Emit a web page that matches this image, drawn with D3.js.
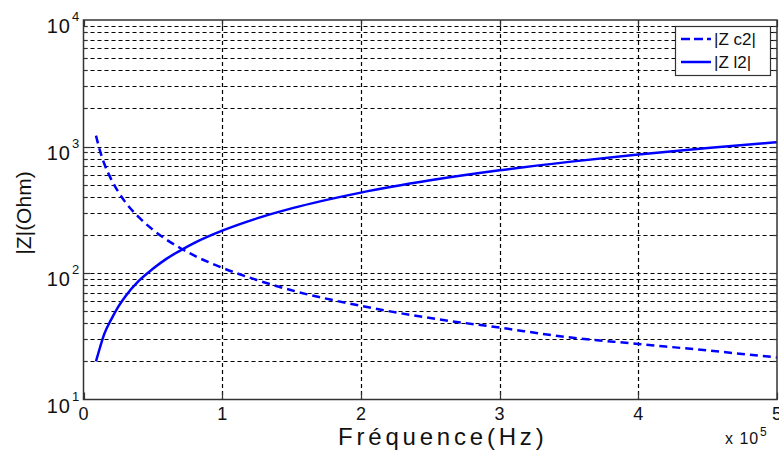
<!DOCTYPE html>
<html><head><meta charset="utf-8">
<script src="https://cdn.jsdelivr.net/npm/d3@7"></script>
<style>body{margin:0;background:#fff}svg{display:block}text{font-family:"Liberation Sans",Arial,sans-serif}</style>
</head><body><svg id="c" width="779" height="452"></svg>
<script>
const freq = [0.09,0.12,0.15,0.2,0.25,0.3,0.4,0.5,0.6,0.7,0.8,1.0,1.25,1.5,2.0,2.5,3.0,3.5,4.0,4.5,5.0]; // x 1e5 Hz
const zl2 = [20,26,33,43,54,65,87,108,130,151,173,216,270,324,432,540,648,756,864,972,1080];
const zc2 = [1220,915,730,550,440,365,275,220,183,157,137,110,88,73,55,44,37,31,27.5,24.4,21.5];
const xTicks = [0,1,2,3,4,5];
const yDecades = [1,2,3,4];
const seriesNames = ["|Z c2|","|Z l2|"];

const svg = d3.select("#c");
const L=83.5,R=777,T=20,B=399.5;
const x = d3.scaleLinear().domain([0,5]).range([L,R]);
const y = d3.scaleLog().domain([10,1e4]).range([B,T]);
const cr = v=>Math.round(v)+0.5;

// grid
const minor=[];
for(let d=1;d<4;d++){for(let m=1;m<10;m++){minor.push(m*Math.pow(10,d));}}
const inner = minor.filter(v=>v>10&&v<1e4);
const g = svg.append("g");
g.selectAll("line.h").data(inner).join("line")
 .attr("x1",L).attr("x2",R).attr("y1",d=>cr(y(d))).attr("y2",d=>cr(y(d)))
 .attr("stroke","#000").attr("stroke-width",1.2).attr("stroke-dasharray","4,3");
g.selectAll("line.v").data(xTicks.filter(v=>v>0&&v<5)).join("line")
 .attr("x1",d=>cr(x(d))).attr("x2",d=>cr(x(d))).attr("y1",T).attr("y2",B)
 .attr("stroke","#000").attr("stroke-width",1.2).attr("stroke-dasharray","4,3");

// ticks inward
const tk = svg.append("g").attr("stroke","#333").attr("stroke-width",1.2);
inner.forEach(v=>{
  const len = (Math.abs(Math.log10(v)%1)<1e-9)?7:4;
  tk.append("line").attr("x1",L).attr("x2",L+len).attr("y1",cr(y(v))).attr("y2",cr(y(v)));
  tk.append("line").attr("x1",R).attr("x2",R-len).attr("y1",cr(y(v))).attr("y2",cr(y(v)));
});
xTicks.forEach(v=>{
  tk.append("line").attr("x1",cr(x(v))).attr("x2",cr(x(v))).attr("y1",B).attr("y2",B-7);
  tk.append("line").attr("x1",cr(x(v))).attr("x2",cr(x(v))).attr("y1",T).attr("y2",T+7);
});

// curves
const line = d3.line().x((d,i)=>x(freq[i])).y(d=>y(d)).curve(d3.curveMonotoneX);
svg.append("path").attr("d",line(zc2)).attr("fill","none").attr("stroke","#0000ff")
 .attr("stroke-width",2.5).attr("stroke-dasharray","8,5");
svg.append("path").attr("d",line(zl2)).attr("fill","none").attr("stroke","#0000ff")
 .attr("stroke-width",2.5);

// box
svg.append("rect").attr("x",L).attr("y",T).attr("width",R-L).attr("height",B-T)
 .attr("fill","none").attr("stroke","#333").attr("stroke-width",1.5);

// x tick labels
svg.selectAll("text.xt").data(xTicks).join("text")
 .attr("x",d=>x(d)).attr("y",420).attr("text-anchor","middle")
 .attr("font-size",18).attr("fill","#111").text(d=>d);
// y tick labels
yDecades.forEach(d=>{
  svg.append("text").attr("x",71).attr("y",y(Math.pow(10,d))+13)
   .attr("text-anchor","end").attr("font-size",20).attr("letter-spacing","1px").attr("fill","#111").text("10");
  svg.append("text").attr("x",72).attr("y",y(Math.pow(10,d))+1)
   .attr("font-size",13).attr("fill","#111").text(d);
});
// x 10^5
svg.append("text").attr("x",725).attr("y",444).attr("font-size",16).attr("letter-spacing","1px").attr("fill","#111").text("x 10");
svg.append("text").attr("x",760).attr("y",436).attr("font-size",12).attr("fill","#111").text("5");

// axis labels
svg.append("text").attr("x",338).attr("y",445).attr("font-size",24).attr("letter-spacing","3.8px")
 .attr("fill","#111").text("Fréquence(Hz)");
svg.append("text").attr("transform","translate(31,213) rotate(-90)").attr("text-anchor","middle")
 .attr("font-size",21).attr("fill","#111").text("|Z|(Ohm)");

// legend
svg.append("rect").attr("x",675.5).attr("y",26.5).attr("width",95).attr("height",49)
 .attr("fill","#fff").attr("stroke","#333").attr("stroke-width",1.2);
[39,62].forEach((yy,i)=>{
  svg.append("line").attr("x1",681).attr("x2",711).attr("y1",yy).attr("y2",yy)
   .attr("stroke","#0000ff").attr("stroke-width",2.5).attr("stroke-dasharray",i===0?"9,4":null);
  svg.append("text").attr("x",714).attr("y",yy+6).attr("font-size",17).attr("fill","#111").text(seriesNames[i]);
});
</script></body></html>
